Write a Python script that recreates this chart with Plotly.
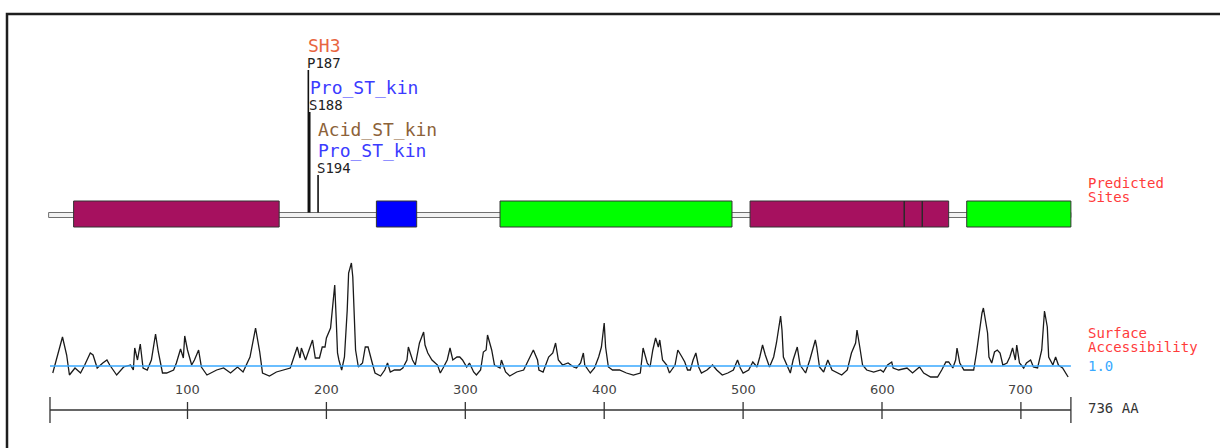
import plotly.graph_objects as go

# ---------------- data ----------------
SEQ_LEN = 736
DOMAIN_START = [18, 236, 325, 505, 661]
DOMAIN_END = [166, 265, 492, 648, 736]
DOMAIN_COLOR = ["#A6115F", "#0000FF", "#00FF00", "#A6115F", "#00FF00"]
DOMAIN_DIVIDERS = [616, 629]

SITE_POS = [187, 188, 194]
SITE_LABEL = ["P187", "S188", "S194"]
SITE_MOTIFS = [["SH3"], ["Pro_ST_kin"], ["Pro_ST_kin", "Acid_ST_kin"]]
MOTIF_COLOR = {"SH3": "#E8663F", "Pro_ST_kin": "#3B3BFF", "Acid_ST_kin": "#8C6239"}

TICKS = [100, 200, 300, 400, 500, 600, 700]
ACC_THRESHOLD = 1.0

ACC_POS = [3, 10, 13, 15, 19, 23, 26, 30, 32, 35, 39, 42, 44, 49, 54, 59, 61, 62, 64, 66,
           68, 71, 74, 77, 79, 82, 85, 90, 92, 95, 97, 98, 100, 103, 105, 108, 110, 114, 121, 126,
           131, 136, 140, 145, 149, 152, 154, 159, 164, 169, 174, 179, 181, 182, 185, 190, 192, 195, 197, 199,
           200, 203, 205, 206, 207, 208, 209, 211, 213, 215, 216, 218, 219, 220, 221, 223, 226, 228, 230, 233,
           235, 239, 242, 244, 246, 249, 253, 255, 258, 259, 262, 264, 267, 270, 271, 273, 276, 280, 282, 284,
           287, 289, 291, 294, 296, 298, 301, 303, 306, 308, 311, 313, 315, 316, 319, 321, 325, 326, 329, 332,
           337, 342, 345, 349, 352, 353, 356, 360, 363, 365, 367, 370, 374, 378, 380, 383, 385, 386, 390, 393,
           396, 398, 400, 401, 403, 406, 411, 416, 421, 426, 428, 431, 433, 435, 437, 439, 440, 442, 445, 447,
           451, 453, 456, 458, 460, 462, 464, 466, 468, 470, 474, 478, 481, 485, 489, 493, 496, 498, 500, 504,
           507, 510, 512, 514, 516, 519, 522, 524, 527, 528, 529, 532, 534, 536, 539, 541, 545, 548, 552, 553,
           555, 558, 561, 564, 568, 571, 575, 578, 581, 582, 584, 586, 589, 594, 599, 601, 604, 607, 608, 612,
           618, 622, 627, 630, 635, 640, 643, 646, 648, 651, 653, 654, 656, 659, 662, 666, 668, 670, 672, 673,
           676, 677, 679, 681, 683, 685, 687, 690, 692, 694, 696, 697, 699, 702, 704, 707, 709, 712, 715, 717,
           719, 720, 723, 725, 727, 730, 732, 734]
ACC_VAL = [0.86, 1.58, 1.22, 0.82, 0.96, 0.86, 1.02, 1.26, 1.22, 0.96, 1.06, 1.12, 1.02, 0.82, 0.98, 1.02, 0.92, 1.36, 1.12, 1.44,
           0.96, 0.92, 1.12, 1.64, 1.28, 0.86, 0.86, 0.92, 1.06, 1.34, 1.16, 1.60, 1.32, 1.02, 1.12, 1.32, 0.98, 0.82, 0.92, 0.96,
           0.86, 0.98, 0.88, 1.18, 1.76, 1.28, 0.86, 0.80, 0.88, 0.92, 0.96, 1.38, 1.16, 1.36, 1.12, 1.52, 1.16, 1.16, 1.38, 1.38,
           1.56, 1.76, 2.28, 2.62, 1.98, 1.26, 1.12, 0.92, 1.18, 2.12, 2.86, 3.06, 2.78, 2.12, 1.32, 0.98, 1.06, 1.38, 1.38, 1.06,
           0.86, 0.80, 0.92, 1.06, 0.88, 0.92, 0.92, 0.96, 1.12, 1.38, 1.12, 1.02, 1.46, 1.68, 1.42, 1.26, 1.12, 1.02, 0.86, 0.96,
           1.12, 1.36, 1.12, 1.18, 1.18, 1.12, 0.98, 1.06, 0.88, 0.82, 0.92, 1.28, 1.32, 1.62, 1.32, 1.02, 0.96, 1.12, 0.88, 0.80,
           0.88, 0.92, 1.08, 1.32, 1.12, 0.92, 0.88, 1.18, 1.26, 1.46, 1.12, 1.02, 1.06, 0.98, 0.96, 1.06, 1.26, 1.02, 0.86, 0.96,
           1.18, 1.38, 1.86, 1.38, 0.98, 0.92, 0.92, 0.86, 0.82, 0.86, 1.36, 1.06, 0.98, 1.32, 1.56, 1.38, 1.52, 1.12, 1.02, 0.86,
           1.02, 1.32, 1.18, 1.08, 0.92, 0.92, 1.12, 1.26, 0.98, 0.86, 0.92, 1.02, 0.92, 0.82, 0.86, 0.92, 1.12, 0.96, 0.86, 0.92,
           1.08, 0.98, 1.18, 1.42, 1.22, 0.98, 1.18, 1.46, 2.00, 1.72, 1.18, 0.98, 0.86, 1.12, 1.38, 1.02, 0.86, 1.12, 1.52, 1.38,
           0.98, 0.88, 1.12, 0.92, 0.86, 0.82, 0.92, 1.26, 1.46, 1.72, 1.38, 1.02, 0.92, 0.88, 0.92, 0.88, 1.02, 1.08, 0.96, 0.92,
           0.96, 0.86, 0.98, 0.86, 0.78, 0.78, 0.92, 1.08, 1.08, 0.96, 1.12, 1.36, 1.06, 0.92, 0.92, 0.92, 1.26, 1.72, 2.06, 2.16,
           1.66, 1.18, 1.06, 1.28, 1.32, 1.26, 1.02, 1.06, 1.18, 1.36, 1.12, 1.42, 1.06, 0.96, 1.06, 1.12, 0.98, 0.96, 1.32, 2.10,
           1.78, 1.18, 1.02, 1.18, 1.02, 0.96, 0.86, 0.78]

# ---------------- layout constants (pixel space on y) ----------------
W, H = 1220, 448
PX_PER_AA = 1.389
X0_PX = 48.6
XMIN = -X0_PX / PX_PER_AA
XMAX = (W - X0_PX) / PX_PER_AA

ACC_BASE_PX = 366.0     # pixel row of threshold
ACC_PX_PER_UNIT = 50.0
Y2_MAX = ACC_THRESHOLD + ACC_BASE_PX / ACC_PX_PER_UNIT
Y2_MIN = ACC_THRESHOLD - (H - ACC_BASE_PX) / ACC_PX_PER_UNIT

BB_Y0, BB_Y1 = 212.5, 217.5
DOM_Y0, DOM_Y1 = 201, 227
STICK_TOP = [70, 112, 175]
AXIS_Y = 410

MONO = "DejaVu Sans Mono"

fig = go.Figure()

# accessibility trace
fig.add_trace(go.Scatter(x=ACC_POS, y=ACC_VAL, mode="lines", yaxis="y2",
                         line=dict(color="#1A1A1A", width=1.3), hoverinfo="skip",
                         showlegend=False))
# threshold line
fig.add_trace(go.Scatter(x=[1, SEQ_LEN], y=[ACC_THRESHOLD, ACC_THRESHOLD], mode="lines",
                         yaxis="y2", line=dict(color="#39A9FF", width=1.5),
                         hoverinfo="skip", showlegend=False))

shapes = []
# frame
shapes.append(dict(type="rect", xref="paper", yref="paper", x0=7 / W, x1=1.05,
                   y0=-0.1, y1=1 - 14 / H, line=dict(color="#1E1E1E", width=2.5),
                   fillcolor="rgba(0,0,0,0)", layer="below"))
# backbone
shapes.append(dict(type="rect", xref="x", yref="y", x0=0, x1=SEQ_LEN, y0=BB_Y0, y1=BB_Y1,
                   line=dict(color="#707070", width=1), fillcolor="#F2F2F2"))
# domains
for s, e, c in zip(DOMAIN_START, DOMAIN_END, DOMAIN_COLOR):
    shapes.append(dict(type="rect", xref="x", yref="y", x0=s, x1=e, y0=DOM_Y0, y1=DOM_Y1,
                       line=dict(color="#333333", width=1), fillcolor=c))
for d in DOMAIN_DIVIDERS:
    shapes.append(dict(type="line", xref="x", yref="y", x0=d, x1=d, y0=DOM_Y0, y1=DOM_Y1,
                       line=dict(color="#2A2A2A", width=1.5)))
# site sticks
for p, top in zip(SITE_POS, STICK_TOP):
    shapes.append(dict(type="line", xref="x", yref="y", x0=p, x1=p, y0=top, y1=BB_Y0,
                       line=dict(color="#111111", width=1.6)))
# ruler
shapes.append(dict(type="line", xref="x", yref="y", x0=1, x1=SEQ_LEN, y0=AXIS_Y, y1=AXIS_Y,
                   line=dict(color="#333333", width=1.5)))
for t in TICKS:
    shapes.append(dict(type="line", xref="x", yref="y", x0=t, x1=t, y0=AXIS_Y - 8, y1=AXIS_Y + 9,
                       line=dict(color="#333333", width=1.3)))
for t in [1, SEQ_LEN]:
    shapes.append(dict(type="line", xref="x", yref="y", x0=t, x1=t, y0=AXIS_Y - 13, y1=AXIS_Y + 13,
                       line=dict(color="#333333", width=1.3)))

ann = []
# site labels & motifs
for p, lab, motifs, top in zip(SITE_POS, SITE_LABEL, SITE_MOTIFS, STICK_TOP):
    ly = top - 7
    ann.append(dict(x=p, y=ly, xref="x", yref="y", text=lab, showarrow=False,
                    xanchor="left", yanchor="middle", xshift=-3,
                    font=dict(family=MONO, size=14, color="#222222")))
    my = ly - 18
    for m in motifs:
        ann.append(dict(x=p, y=my, xref="x", yref="y", text=m, showarrow=False,
                        xanchor="left", yanchor="middle", xshift=-2,
                        font=dict(family=MONO, size=18, color=MOTIF_COLOR[m])))
        my -= 21
# tick labels
for t in TICKS:
    ann.append(dict(x=t, y=AXIS_Y - 21, xref="x", yref="y", text=str(t), showarrow=False,
                    xanchor="center", yanchor="middle",
                    font=dict(family="DejaVu Sans", size=13, color="#444444")))
# right-side labels
RIGHT_X = 1086 / W
for txt, py, col in [("Predicted", 183, "#FF3B3B"), ("Sites", 197, "#FF3B3B"),
                     ("Surface", 333, "#FF3B3B"), ("Accessibility", 347, "#FF3B3B"),
                     ("1.0", 366, "#39A9FF"), ("736 AA", 408, "#333333")]:
    ann.append(dict(x=RIGHT_X, y=py, xref="paper", yref="y", text=txt, showarrow=False,
                    xanchor="left", yanchor="middle",
                    font=dict(family=MONO, size=14, color=col)))

fig.update_layout(
    width=W, height=H, autosize=False,
    margin=dict(l=0, r=0, t=0, b=0, pad=0),
    paper_bgcolor="white", plot_bgcolor="white",
    xaxis=dict(range=[XMIN, XMAX], visible=False, fixedrange=True),
    yaxis=dict(range=[H, 0], visible=False, fixedrange=True),
    yaxis2=dict(range=[Y2_MIN, Y2_MAX], overlaying="y", visible=False, fixedrange=True),
    shapes=shapes, annotations=ann, showlegend=False,
)

fig.write_html("out.html", config={"displayModeBar": False},
               post_script="document.body.style.margin='0';document.body.style.padding='0';")
